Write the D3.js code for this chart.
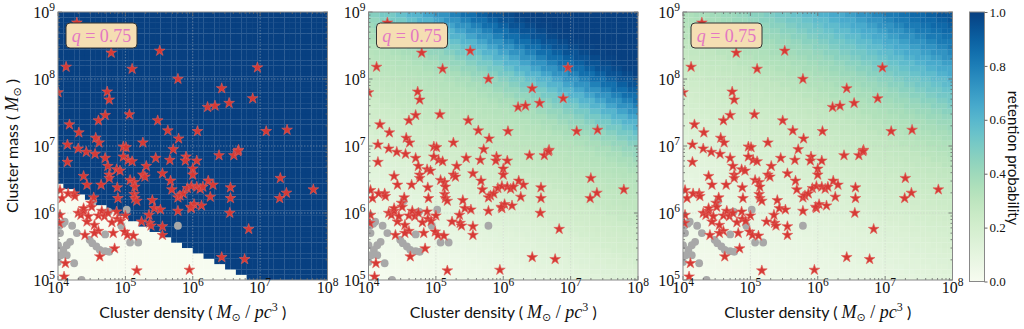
<!DOCTYPE html>
<html>
<head>
<meta charset="utf-8">
<script src="https://cdn.jsdelivr.net/npm/d3@7"></script>
<style>
  body { margin: 0; background: #fff; }
  svg { display: block; }
</style>
</head>
<body>
<svg id="chart" width="1024" height="329"></svg>
<script>
// ---- data (all read off the picture) ----
// stars: [log10 density, log10 mass]
const starsLog = [
  [4.79,8.39],[4.12,8.18],[5.51,8.42],[5.10,8.15],[5.78,8.00],[4.00,7.80],[4.73,7.81],[4.76,7.69],
  [4.17,7.32],[4.60,7.38],[4.70,7.46],[5.06,7.47],[5.48,7.38],[5.63,7.23],[4.31,7.20],[4.56,7.12],
  [4.61,7.05],[4.14,7.02],[4.30,6.96],[4.97,6.99],[5.01,6.98],[5.26,7.05],[5.79,7.11],[5.71,6.95],
  [6.96,8.17],[6.43,7.86],[6.22,7.58],[6.33,7.60],[6.54,7.64],[6.89,7.71],[6.07,7.22],[7.09,7.22],
  [7.40,7.24],[6.68,6.94],[4.42,6.91],[4.55,6.88],[4.97,6.84],[4.70,6.82],[4.74,6.70],[4.14,6.76],
  [4.87,6.65],[4.92,6.63],[5.04,6.79],[5.10,6.77],[5.31,6.70],[5.66,6.79],[5.90,6.84],[4.76,6.57],
  [4.76,6.52],[4.38,6.55],[4.43,6.42],[4.64,6.42],[4.88,6.38],[5.07,6.49],[5.13,6.46],[5.14,6.39],
  [5.26,6.57],[5.29,6.54],[5.55,6.59],[5.67,6.48],[5.69,6.35],[5.78,6.23],[5.81,6.26],[5.86,6.29],
  [5.92,6.37],[5.98,6.40],[4.03,6.34],[4.06,6.22],[4.15,6.29],[4.24,6.29],[4.25,6.25],[4.53,6.23],
  [4.49,6.15],[4.50,6.09],[4.89,6.22],[5.13,6.28],[5.14,6.22],[5.17,6.18],[5.40,6.19],[5.43,6.07],
  [4.03,5.97],[4.02,5.85],[4.30,6.00],[4.34,5.97],[4.38,6.03],[4.38,6.07],[4.43,5.87],[4.45,5.95],
  [4.60,5.96],[4.54,5.82],[4.60,5.73],[4.65,6.03],[4.69,5.95],[4.74,6.00],[4.80,5.86],[4.87,6.02],
  [4.88,5.91],[4.93,5.88],[5.00,5.96],[5.24,5.87],[5.35,5.97],[5.36,5.85],[5.38,5.81],[5.52,6.05],
  [5.55,5.80],[5.55,5.67],[5.78,6.03],[5.98,6.07],[4.40,5.67],[4.54,5.70],[4.82,5.70],[4.99,5.72],
  [5.03,5.67],[5.12,5.66],[4.84,5.47],[4.62,5.35],[4.11,5.25],[5.17,5.14],[5.95,5.15],[4.09,5.05],
  [6.06,6.78],[6.39,6.86],[6.61,6.86],[6.67,6.92],[6.00,6.66],[6.00,6.57],[6.23,6.48],[6.30,6.42],
  [6.06,6.39],[6.11,6.36],[6.15,6.39],[6.56,6.38],[6.56,6.22],[6.26,6.24],[6.02,6.13],[5.97,6.09],
  [6.13,6.11],[6.55,6.00],[7.30,6.52],[7.39,6.30],[7.29,6.22],[7.79,6.35],[6.83,5.76],[6.43,5.34],
  [6.77,5.31],[4.28,8.84],[5.45,6.82],[5.89,6.78]
];
// grey clusters: [log10 density, log10 mass]
const greyLog = [
  [4.52,6.18],[4.75,6.02],[5.02,6.05],[5.07,5.56],[5.19,5.56],[5.78,5.81],[4.70,5.68],[4.21,5.81],
  [4.10,5.87],[4.03,5.70],[4.28,5.70],[4.47,5.60],[4.51,5.55],[4.57,5.50],[4.62,5.45],[4.70,5.43],
  [4.76,5.42],[4.18,5.57],[4.13,5.52],[4.08,5.45],[4.04,5.37],[4.13,5.37],[4.00,5.52],[4.24,5.25],
  [4.35,5.00],[4.00,5.27],[4.02,5.81],[4.07,5.84],[4.94,5.81]
];
// retention probability vs s = log10(M) + 0.5*log10(rho), s from 7.0 to 13.0 in steps of 0.1
const sStart = 7.0, sStep = 0.1;
const retentionLeft = [
  0,0,0,0,0,0,0,0,0,0,0,0,0,0,0,
  1,1,1,1,1,1,1,1,1,1,1,1,1,1,1,1,1,1,1,1,1,1,1,1,1,1,1,1,1,1,1,1,1,1,1,1,1,1,1,1,1,1,1,1,1,1
];
const retentionMiddle = [
  .01,.014,.018,.022,.026,.03,.036,.042,.048,.054,
  .06,.07,.08,.09,.10,.11,.12,.13,.14,.15,
  .16,.17,.18,.20,.21,.22,.23,.24,.26,.27,
  .28,.29,.30,.31,.32,.33,.35,.37,.40,.43,
  .47,.51,.56,.61,.67,.73,.79,.85,.90,.94,
  .97,.99,1,1,1,1,1,1,1,1,1
];
const retentionRight = [
  .02,.023,.026,.029,.032,.035,.04,.045,.05,.055,
  .06,.066,.072,.078,.084,.09,.098,.106,.114,.122,
  .13,.14,.15,.16,.17,.18,.19,.20,.21,.22,
  .23,.24,.25,.26,.27,.28,.29,.31,.32,.34,
  .35,.37,.39,.41,.43,.46,.49,.52,.55,.58,
  .62,.65,.69,.73,.77,.81,.84,.87,.90,.93,.95
];
const profiles = [retentionLeft, retentionMiddle, retentionRight];
const xTicks = [1e4, 1e5, 1e6, 1e7, 1e8];
const yTicks = [1e5, 1e6, 1e7, 1e8, 1e9];
const cbTicks = [0, 0.2, 0.4, 0.6, 0.8, 1.0];
const qLabel = '0.75';

// ---- layout ----
const svg = d3.select('#chart');
const panelLeft = [58, 368.5, 683];
const plotTop = 12, plotW = 269.5, plotH = 268;
const mathFont = "'Liberation Serif', 'DejaVu Serif', serif";
const textFont = "Lato, 'Open Sans', sans-serif";

const x = d3.scaleLog().domain([1e4, 1e8]).range([0, plotW]);
const y = d3.scaleLog().domain([1e5, 1e9]).range([plotH, 0]);
const color = d3.scaleSequential(d3.interpolateGnBu).domain([0, 1]);

// mesh edges in log10 units (50 x 50 cells)
const edgesX = d3.range(51).map(i => 4 + i * 0.08);
const edgesY = d3.range(51).map(j => 5 + j * 0.08);

const minorX = [], minorY = [];
for (let d = 4; d < 8; d++) for (let m = 2; m < 10; m++) minorX.push(m * 10 ** d);
for (let d = 5; d < 9; d++) for (let m = 2; m < 10; m++) minorY.push(m * 10 ** d);

function powText(sel, v) {
  sel.append('tspan').text('10');
  sel.append('tspan').attr('font-size', 11.5).attr('dy', -7).text(Math.round(Math.log10(v)));
}

profiles.forEach((profile, p) => {
  const g = svg.append('g').attr('transform', `translate(${panelLeft[p]},${plotTop})`);

  svg.append('clipPath').attr('id', 'clip' + p)
    .append('rect').attr('width', plotW).attr('height', plotH);

  // heatmap cells
  const cells = [];
  for (let i = 0; i < 50; i++) {
    for (let j = 0; j < 50; j++) {
      const lx = (edgesX[i] + edgesX[i + 1]) / 2;
      const ly = (edgesY[j] + edgesY[j + 1]) / 2;
      let k = Math.round((ly + 0.5 * lx - sStart) / sStep);
      k = Math.max(0, Math.min(profile.length - 1, k));
      cells.push({ i, j, v: profile[k] });
    }
  }
  g.append('g').attr('clip-path', `url(#clip${p})`)
    .selectAll('rect').data(cells).enter().append('rect')
    .attr('x', d => x(10 ** edgesX[d.i]))
    .attr('y', d => y(10 ** edgesY[d.j + 1]))
    .attr('width', d => x(10 ** edgesX[d.i + 1]) - x(10 ** edgesX[d.i]) + 0.2)
    .attr('height', d => y(10 ** edgesY[d.j]) - y(10 ** edgesY[d.j + 1]) + 0.2)
    .attr('fill', d => color(d.v));

  // grid
  const grid = g.append('g').attr('stroke', '#c8c8c8').attr('stroke-width', 0.7)
    .attr('stroke-dasharray', '1.5,1.5').attr('opacity', 0.6);
  xTicks.slice(1, -1).forEach(t => grid.append('line')
    .attr('x1', x(t)).attr('x2', x(t)).attr('y1', 0).attr('y2', plotH));
  yTicks.slice(1, -1).forEach(t => grid.append('line')
    .attr('y1', y(t)).attr('y2', y(t)).attr('x1', 0).attr('x2', plotW));

  // points
  const pts = g.append('g').attr('clip-path', `url(#clip${p})`);
  pts.selectAll('circle').data(greyLog).enter().append('circle')
    .attr('cx', d => x(10 ** d[0])).attr('cy', d => y(10 ** d[1]))
    .attr('r', 3.9).attr('fill', '#a8a8a8');
  const star = d3.symbol().type(d3.symbolStar).size(36);
  pts.selectAll('path').data(starsLog).enter().append('path')
    .attr('d', star)
    .attr('transform', d => `translate(${x(10 ** d[0])},${y(10 ** d[1])})`)
    .attr('fill', '#d63a35').attr('stroke', '#e0605a').attr('stroke-width', 0.6)
    .attr('stroke-linejoin', 'round');

  // ticks, inward on all sides
  const tk = g.append('g').attr('stroke', '#666').attr('stroke-width', 0.8);
  xTicks.forEach(t => {
    tk.append('line').attr('x1', x(t)).attr('x2', x(t)).attr('y1', plotH).attr('y2', plotH - 4);
    tk.append('line').attr('x1', x(t)).attr('x2', x(t)).attr('y1', 0).attr('y2', 4);
  });
  minorX.forEach(t => {
    tk.append('line').attr('x1', x(t)).attr('x2', x(t)).attr('y1', plotH).attr('y2', plotH - 2);
    tk.append('line').attr('x1', x(t)).attr('x2', x(t)).attr('y1', 0).attr('y2', 2);
  });
  yTicks.forEach(t => {
    tk.append('line').attr('y1', y(t)).attr('y2', y(t)).attr('x1', 0).attr('x2', 4);
    tk.append('line').attr('y1', y(t)).attr('y2', y(t)).attr('x1', plotW).attr('x2', plotW - 4);
  });
  minorY.forEach(t => {
    tk.append('line').attr('y1', y(t)).attr('y2', y(t)).attr('x1', 0).attr('x2', 2);
    tk.append('line').attr('y1', y(t)).attr('y2', y(t)).attr('x1', plotW).attr('x2', plotW - 2);
  });

  g.append('rect').attr('width', plotW).attr('height', plotH)
    .attr('fill', 'none').attr('stroke', '#888').attr('stroke-width', 1);

  // q box
  g.append('rect').attr('x', 8).attr('y', 11).attr('width', 71).attr('height', 25).attr('rx', 4)
    .attr('fill', '#f5deb3').attr('stroke', '#333').attr('stroke-width', 1);
  const qt = g.append('text').attr('x', 43.5).attr('y', 30).attr('text-anchor', 'middle')
    .attr('font-family', mathFont).attr('font-size', 18).attr('fill', '#e377c2');
  qt.append('tspan').attr('font-style', 'italic').text('q');
  qt.append('tspan').text(' = ' + qLabel);

  // tick labels
  xTicks.forEach(t => {
    const tx = g.append('text').attr('x', x(t)).attr('y', plotH + 13).attr('text-anchor', 'middle')
      .attr('font-family', mathFont).attr('font-size', 16).attr('fill', '#111');
    powText(tx, t);
  });
  yTicks.forEach(t => {
    const ty = g.append('text').attr('x', -3).attr('y', y(t) + 6).attr('text-anchor', 'end')
      .attr('font-family', mathFont).attr('font-size', 16).attr('fill', '#111');
    powText(ty, t);
  });

  // x label
  const xl = g.append('text').attr('x', plotW / 2).attr('y', plotH + 38).attr('text-anchor', 'middle')
    .attr('font-family', textFont).attr('font-size', 16).attr('fill', '#111');
  xl.append('tspan').text('Cluster density ( ');
  xl.append('tspan').attr('font-family', mathFont).attr('font-style', 'italic').attr('font-size', 18).text('M');
  xl.append('tspan').attr('font-family', "'DejaVu Sans'").attr('font-size', 11).attr('dy', 3).text('\u2299');
  xl.append('tspan').attr('dy', -3).attr('font-family', mathFont).attr('font-size', 18).text(' / ');
  xl.append('tspan').attr('font-family', mathFont).attr('font-style', 'italic').attr('font-size', 18).text('pc');
  xl.append('tspan').attr('font-family', mathFont).attr('font-size', 12).attr('dy', -7).text('3');
  xl.append('tspan').attr('dy', 7).text(' )');

  if (p === 0) {
    const yl = svg.append('text').attr('transform', `translate(18,${plotTop + plotH / 2}) rotate(-90)`)
      .attr('text-anchor', 'middle').attr('font-family', textFont).attr('font-size', 16).attr('fill', '#111');
    yl.append('tspan').text('Cluster mass ( ');
    yl.append('tspan').attr('font-family', mathFont).attr('font-style', 'italic').attr('font-size', 18).text('M');
    yl.append('tspan').attr('font-family', "'DejaVu Sans'").attr('font-size', 11).attr('dy', 3).text('\u2299');
    yl.append('tspan').attr('dy', -3).text(' )');
  }
});

// ---- colorbar ----
const cbX = 969.5, cbW = 15, cbTop = 12, cbH = 269.5;
const grad = svg.append('defs').append('linearGradient').attr('id', 'cbGrad')
  .attr('x1', 0).attr('y1', 1).attr('x2', 0).attr('y2', 0);
d3.range(0, 1.0001, 0.05).forEach(t => grad.append('stop')
  .attr('offset', t).attr('stop-color', color(t)));
svg.append('rect').attr('x', cbX).attr('y', cbTop).attr('width', cbW).attr('height', cbH)
  .attr('fill', 'url(#cbGrad)').attr('stroke', '#888').attr('stroke-width', 1);
const cbScale = d3.scaleLinear().domain([0, 1]).range([cbH, 0]);
const cbAxis = svg.append('g').attr('transform', `translate(${cbX + cbW},${cbTop})`)
  .call(d3.axisRight(cbScale).tickValues(cbTicks).tickFormat(d3.format('.1f')).tickSize(3).tickPadding(2));
cbAxis.select('.domain').remove();
cbAxis.selectAll('line').attr('stroke', '#666');
cbAxis.selectAll('text').attr('font-family', mathFont).attr('font-size', 13).attr('fill', '#111');
svg.append('text').attr('transform', 'translate(1008,158) rotate(90)')
  .attr('text-anchor', 'middle').attr('font-family', textFont).attr('font-size', 15).attr('fill', '#111')
  .text('retention probability');
</script>
</body>
</html>
